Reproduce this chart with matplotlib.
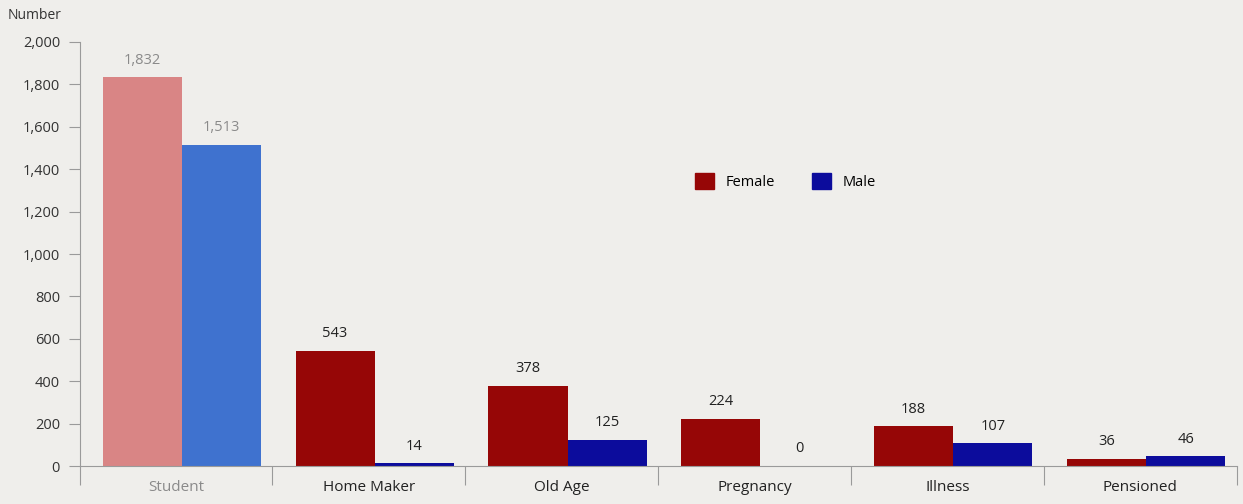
import numpy as np
import matplotlib.pyplot as plt
from matplotlib.patches import Patch

# data
categories = ['Student', 'Home Maker', 'Old Age', 'Pregnancy', 'Illness', 'Pensioned']
female = [1832, 543, 378, 224, 188, 36]
male = [1513, 14, 125, 0, 107, 46]

plt.rcParams['font.family'] = ['Open Sans', 'DejaVu Sans']

bg = '#efeeeb'
red = '#960606'
blue = '#0c0c9c'
red_light = '#d98585'
blue_light = '#3f72cf'

fig = plt.figure(figsize=(12.43, 5.04), dpi=100, facecolor=bg)
ax = fig.add_axes([0.064, 0.075, 0.931, 0.842], facecolor=bg)

x = np.arange(len(categories))
w = 0.41
fcol = [red_light] + [red] * (len(categories) - 1)
mcol = [blue_light] + [blue] * (len(categories) - 1)
ax.bar(x - w / 2 + 0.03, female, w, color=fcol)
ax.bar(x + w / 2 + 0.03, male, w, color=mcol)

# value labels
for i in range(len(categories)):
    c = '#8a8a8a' if i == 0 else '#222222'
    ax.annotate(f'{female[i]:,}', (x[i] - w / 2 + 0.03, female[i]), xytext=(0, 7),
                textcoords='offset points', ha='center', va='bottom', fontsize=10.5, color=c)
    ax.annotate(f'{male[i]:,}', (x[i] + w / 2 + 0.03, male[i]), xytext=(0, 7),
                textcoords='offset points', ha='center', va='bottom', fontsize=10.5, color=c)

ax.set_xlim(-0.5, len(categories) - 0.5)
ax.set_ylim(0, 2000)
ax.set_yticks(range(0, 2001, 200))
ax.set_yticklabels([f'{v:,}' for v in range(0, 2001, 200)])

# category boundaries as ticks, names as minor ticks
ax.set_xticks(np.arange(-0.5, len(categories), 1))
ax.set_xticklabels([])
ax.set_xticks(x, minor=True)
ax.set_xticklabels(categories, minor=True)
ax.tick_params(axis='x', which='major', direction='out', length=14, color='#9a9a9a')
ax.tick_params(axis='x', which='minor', length=0, pad=10, labelsize=11)
for lab in ax.get_xticklabels(minor=True):
    lab.set_color('#8a8a8a' if lab.get_text() == 'Student' else '#222222')
ax.tick_params(axis='y', length=8, color='#9a9a9a', labelsize=10.5, labelcolor='#333333', pad=6)

for s in ['top', 'right']:
    ax.spines[s].set_visible(False)
ax.spines['left'].set_color('#9a9a9a')
ax.spines['bottom'].set_color('#9a9a9a')
ax.spines['left'].set_linewidth(0.8)
ax.spines['bottom'].set_linewidth(0.8)

ax.legend(handles=[Patch(color=red, label='Female'), Patch(color=blue, label='Male')],
          loc='center', bbox_to_anchor=(0.61, 0.67), ncol=2, frameon=False,
          fontsize=10.5, handlelength=1.3, handleheight=1.3, columnspacing=2.5)

fig.text(0.006, 0.955, 'Number', fontsize=10, color='#333333', ha='left', va='bottom')

fig.savefig('out.png', dpi=100, facecolor=bg)
